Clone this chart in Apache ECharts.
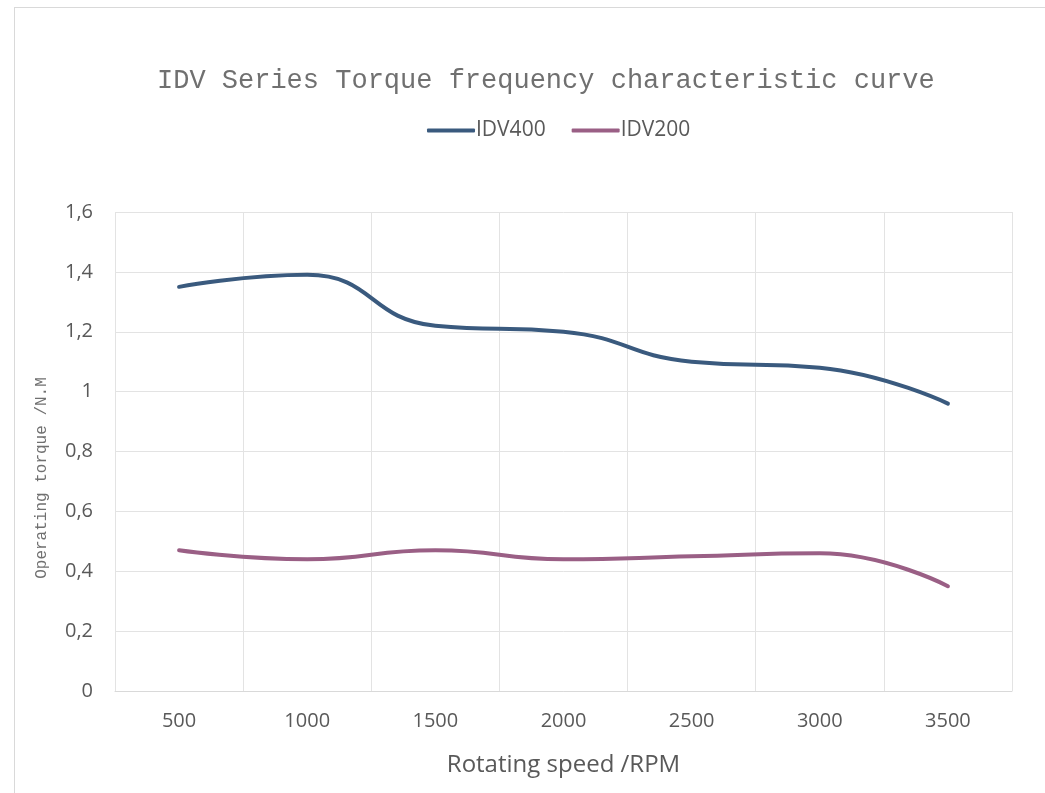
<!DOCTYPE html>
<html>
<head>
<meta charset="utf-8">
<style>
  html, body { margin: 0; padding: 0; background: #fff; }
  #frame { position: absolute; left: 14px; top: 7px; width: 1100px; height: 900px;
           border-top: 1px solid #d9d9d9; border-left: 1px solid #d9d9d9; }
  #chart { position: absolute; left: 0; top: 0; width: 1045px; height: 793px; }
</style>
<script src="https://cdn.jsdelivr.net/npm/echarts@6/dist/echarts.min.js"></script>
</head>
<body>
<div id="frame"></div>
<div id="chart"></div>
<script>
const speeds = ["500", "1000", "1500", "2000", "2500", "3000", "3500"];
const idv400 = [1.35, 1.39, 1.22, 1.20, 1.10, 1.08, 0.96];
const idv200 = [0.47, 0.44, 0.47, 0.44, 0.45, 0.46, 0.35];

const monoFont = '"Liberation Mono", "DejaVu Sans Mono", monospace';
const sansFont = '"Open Sans", "Noto Sans", sans-serif';

const chart = echarts.init(document.getElementById("chart"));
chart.setOption({
  animation: false,
  title: {
    text: "IDV Series Torque frequency characteristic curve",
    left: 152,
    top: 62,
    textStyle: { fontFamily: monoFont, fontSize: 27, fontWeight: "normal", color: "#707070" }
  },
  legend: {
    data: ["IDV400", "IDV200"],
    left: 422,
    top: 115,
    itemWidth: 48,
    itemHeight: 4,
    itemGap: 26,
    icon: "roundRect",
    textStyle: { fontFamily: sansFont, fontSize: 21, color: "#595959", padding: [0, 0, 0, -4] }
  },
  grid: { left: 115, right: 33, top: 212, bottom: 102 },
  // y axis title, placed by hand like the original
  graphic: [{
    type: "text",
    x: 42,
    y: 478,
    rotation: Math.PI / 2,
    style: {
      text: "Operating torque /N.M",
      font: '16px "Liberation Mono", monospace',
      fill: "#707070",
      align: "center",
      verticalAlign: "middle"
    }
  }],
  xAxis: {
    type: "category",
    data: speeds,
    boundaryGap: true,
    name: "Rotating speed /RPM",
    nameLocation: "middle",
    nameGap: 62,
    nameTextStyle: { fontFamily: sansFont, fontSize: 24, color: "#595959" },
    axisLine: { lineStyle: { color: "#d9d9d9" } },
    axisTick: { show: false },
    axisLabel: { fontFamily: sansFont, fontSize: 20, color: "#595959", margin: 20 },
    splitLine: { show: true, lineStyle: { color: "#e3e3e3", width: 1 } }
  },
  yAxis: {
    type: "value",
    min: 0,
    max: 1.6,
    interval: 0.2,
    axisLine: { show: false },
    axisTick: { show: false },
    axisLabel: {
      fontFamily: sansFont, fontSize: 20, color: "#595959", margin: 22,
      formatter: v => String(Math.round(v * 10) / 10).replace(".", ",")
    },
    splitLine: { lineStyle: { color: "#e3e3e3", width: 1 } }
  },
  series: [
    {
      name: "IDV400",
      type: "line",
      data: idv400,
      smooth: 0.5,
      symbol: "none",
      itemStyle: { color: "#3a5a7e" },
      lineStyle: { color: "#3a5a7e", width: 4, cap: "round" }
    },
    {
      name: "IDV200",
      type: "line",
      data: idv200,
      smooth: 0.5,
      symbol: "none",
      itemStyle: { color: "#9a5f85" },
      lineStyle: { color: "#9a5f85", width: 4, cap: "round" }
    }
  ]
});
</script>
</body>
</html>
